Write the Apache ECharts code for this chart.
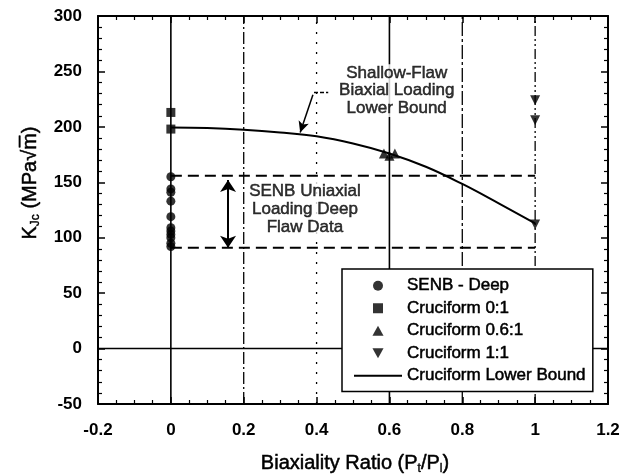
<!DOCTYPE html>
<html><head><meta charset="utf-8">
<script src="https://cdn.jsdelivr.net/npm/echarts@6/dist/echarts.min.js"></script>
<style>html,body{margin:0;padding:0;background:#fff}#c{width:624px;height:475px}</style>
</head><body><div id="c"></div>
<script>
// ---- data ----
const xTickLabels = ['-0.2','0','0.2','0.4','0.6','0.8','1','1.2'];
const yTickLabels = ['-50','0','50','100','150','200','250','300'];
const senbDeep = [[0,155],[0,144],[0,141],[0,133],[0,119],[0,109],[0,106],[0,103],[0,100],[0,95],[0,92]];
const cruci01 = [[0,213],[0,198]];
const cruci061 = [[0.585,176],[0.6,174],[0.615,176]];
const cruci11 = [[1,224],[1,206],[1,112]];
const lowerBound = [[0,199.5],[0.1,199],[0.2,197.5],[0.3,195],[0.4,191.5],[0.5,185],[0.6,176],[0.7,164],[0.8,148.5],[0.9,131],[1,113]];
const deepBandUpper = [[0,156],[1,156]];
const deepBandLower = [[0,91],[1,91]];
const vLineX = [0,0.2,0.4,0.6,0.8,1];
const zeroLine = [[-0.2,0],[1.2,0]];
const bandArrow = [[0.157,152],[0.157,91]];
const curveArrow = [[0.39,229],[0.355,195]];
const curveLeader = [[0.393,231],[0.432,231]];
const shallowLabelPos = [0.62,232.6];
const senbLabelPos = [0.368,126];
const shallowText = 'Shallow-Flaw\nBiaxial Loading\nLower Bound';
const senbText = 'SENB Uniaxial\nLoading Deep\nFlaw Data';
const legendNames = ['SENB - Deep','Cruciform 0:1','Cruciform 0.6:1','Cruciform 1:1','Cruciform Lower Bound'];

// ---- styles ----
const FONT = 'Liberation Sans, Arial, sans-serif';
const INK = {textBorderColor:'#000', textBorderWidth:0.5};
const vStyles = [
  {type:'solid', width:1.6},
  {type:[12,3,2,3], width:1.3},
  {type:[2,8], width:1.3},
  {type:'solid', width:1.6},
  {type:[14,3,3,3], width:1.3},
  {type:[10,3,2,3,2,3], width:1.3}
];
const legendIcons = ['circle','path://M0,0H8V8H0Z','path://M5,0L10,9L0,9Z','path://M0,0L10,0L5,9Z','path://M0,0H48V2H0Z'];

const chart = echarts.init(document.getElementById('c'), null, {renderer:'canvas'});

const axisCommon = {
  axisLine:{show:true, onZero:false, lineStyle:{color:'#000', width:2}},
  axisTick:{show:true, inside:true, length:7, lineStyle:{color:'#000', width:1.5}},
  minorTick:{show:true, length:4, lineStyle:{color:'#000', width:1.2}},
  splitLine:{show:false}
};

const series = [];
vLineX.forEach((x,i)=>{
  series.push({type:'line', data:[[x,-50],[x,300]], symbol:'none', silent:true,
    lineStyle:Object.assign({color:'#000'}, vStyles[i]), z:1});
});
series.push({type:'line', data:zeroLine, symbol:'none', silent:true, lineStyle:{color:'#000', width:1.6}, z:1});
series.push({type:'line', data:deepBandUpper, symbol:'none', silent:true, lineStyle:{color:'#000', width:2, type:[11,6]}, z:2});
series.push({type:'line', data:deepBandLower, symbol:'none', silent:true, lineStyle:{color:'#000', width:2, type:[11,6]}, z:2});
series.push({type:'line', data:curveLeader, symbol:'none', silent:true, lineStyle:{color:'#000', width:1.3, type:[4,2]}, z:2});
series.push({type:'line', data:[], symbol:'none', silent:true, z:3,
  markLine:{silent:true, symbol:['none','arrow'], symbolSize:[8,11], label:{show:false},
    lineStyle:{color:'#000', width:1.5, type:'solid'},
    data:[[{coord:curveArrow[0]},{coord:curveArrow[1]}]]}});
series.push({type:'line', data:[], symbol:'none', silent:true, z:3,
  markLine:{silent:true, symbol:['arrow','arrow'], symbolSize:[12,12], label:{show:false},
    lineStyle:{color:'#000', width:2, type:'solid'},
    data:[[{coord:bandArrow[0]},{coord:bandArrow[1]}]]}});
series.push({name:'Cruciform Lower Bound', type:'line', data:lowerBound, smooth:0.4, symbol:'none',
  lineStyle:{color:'#000', width:2}, itemStyle:{color:'#000'}, z:4});
series.push({name:'SENB - Deep', type:'scatter', data:senbDeep, symbol:'circle', symbolSize:9, itemStyle:{color:'#000'}, z:5});
series.push({name:'Cruciform 0:1', type:'scatter', data:cruci01, symbol:'rect', symbolSize:9, itemStyle:{color:'#000'}, z:5});
series.push({name:'Cruciform 0.6:1', type:'scatter', data:cruci061, symbol:'triangle', symbolSize:10, itemStyle:{color:'#000'}, z:5});
series.push({name:'Cruciform 1:1', type:'scatter', data:cruci11, symbol:'triangle', symbolRotate:180, symbolSize:10, itemStyle:{color:'#000'}, z:5});
series.push({type:'scatter', data:[shallowLabelPos], symbolSize:1, itemStyle:{color:'rgba(0,0,0,0)'}, silent:true, z:6,
  label:Object.assign({show:true, position:'inside', formatter:shallowText, fontFamily:FONT, fontSize:17, lineHeight:17.6,
    color:'#000', align:'center', backgroundColor:'#fff', padding:[0,2]}, INK)});
series.push({type:'scatter', data:[senbLabelPos], symbolSize:1, itemStyle:{color:'rgba(0,0,0,0)'}, silent:true, z:6,
  label:Object.assign({show:true, position:'inside', formatter:senbText, fontFamily:FONT, fontSize:17, lineHeight:18,
    color:'#000', align:'center', backgroundColor:'#fff', padding:[0,0]}, INK)});

const titleRich = {
  a:{fontFamily:FONT, fontSize:20, lineHeight:24, fill:'#000', stroke:'#000', lineWidth:0.5},
  s:{fontFamily:FONT, fontSize:12, lineHeight:12, verticalAlign:'bottom', fill:'#000', stroke:'#000', lineWidth:0.4}
};

const option = {
  backgroundColor:'#fff',
  animation:false,
  grid:{left:98, right:16, top:16, bottom:71, containLabel:false},
  xAxis:[
    Object.assign({type:'value', position:'bottom', min:-0.2, max:1.2, interval:0.2,
      axisLabel:{show:true, margin:18, fontFamily:FONT, fontWeight:'bold', fontSize:17, color:'#000',
        formatter:(v)=>{const i=Math.round((v+0.2)/0.2); return xTickLabels[i];}}}, axisCommon,
      {minorTick:Object.assign({}, axisCommon.minorTick, {splitNumber:4})}),
    Object.assign({type:'value', position:'top', min:-0.2, max:1.2, interval:0.2, axisLabel:{show:false}}, axisCommon,
      {minorTick:Object.assign({}, axisCommon.minorTick, {splitNumber:4})})
  ],
  yAxis:[
    Object.assign({type:'value', position:'left', min:-50, max:300, interval:50,
      axisLabel:{show:true, margin:16, fontFamily:FONT, fontWeight:'bold', fontSize:17, color:'#000',
        formatter:(v)=>{const i=Math.round((v+50)/50); return yTickLabels[i];}}}, axisCommon,
      {minorTick:Object.assign({}, axisCommon.minorTick, {splitNumber:5})}),
    Object.assign({type:'value', position:'right', min:-50, max:300, interval:50, axisLabel:{show:false}}, axisCommon,
      {minorTick:Object.assign({}, axisCommon.minorTick, {splitNumber:5})})
  ],
  legend:{data:legendNames.map((n,i)=>({name:n, icon:legendIcons[i]})), orient:'vertical', left:342, top:269, padding:[8,7,7,12],
    itemWidth:48, itemHeight:10, itemGap:5, symbolKeepAspect:true, symbolRotate:0,
    backgroundColor:'#fff', borderColor:'#000', borderWidth:1.5,
    borderRadius:0, selectedMode:false, z:10,
    textStyle:Object.assign({fontFamily:FONT, fontSize:17, color:'#000', lineHeight:17}, INK)},
  graphic:[
    {type:'text', x:30, y:183, rotation:Math.PI/2, z:20,
      style:{text:'{a|K}{s|Jc}{a| (MPa√m̅)}', align:'center', verticalAlign:'middle', fill:'#000', rich:titleRich}},
    {type:'text', x:355, y:463, z:20,
      style:{text:'{a|Biaxiality Ratio (P}{s|t}{a|/P}{s|l}{a|)}', align:'center', verticalAlign:'middle', fill:'#000', rich:titleRich}}
  ],
  series:series
};
chart.setOption(option);
</script>
</body></html>
